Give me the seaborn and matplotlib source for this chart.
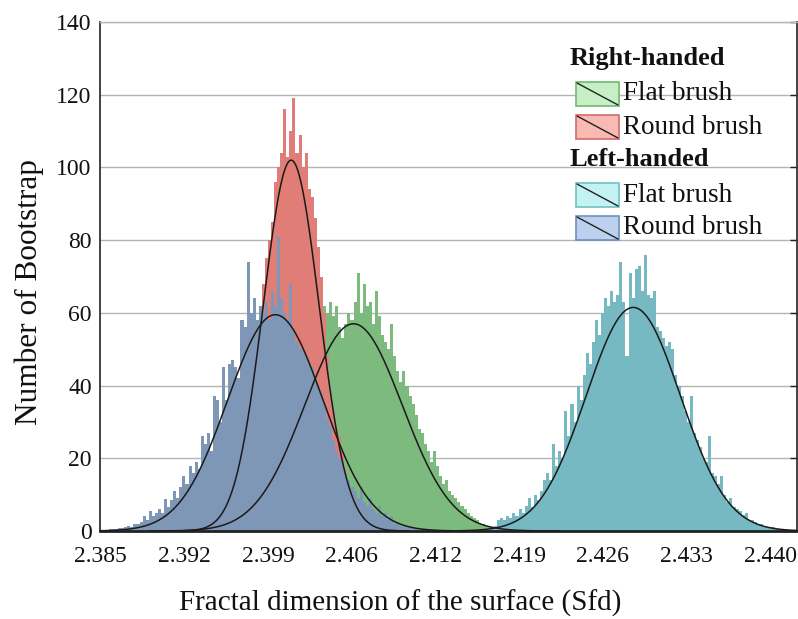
import numpy as np
import pandas as pd
import seaborn as sns
import matplotlib
matplotlib.use("Agg")
import matplotlib.pyplot as plt
from matplotlib.patches import Rectangle
from matplotlib.lines import Line2D

# ---------------- data ----------------
bin_start = 2.3852
bin_width = 0.000251

# Left-handed, round brush (first bin index 0)
lh_round_first = 0
lh_round_counts = [0.3, 0.3, 0.5, 0.5, 0.6, 0.8, 0.8, 1, 1.5, 1.2,
                   2, 1.8, 2.5, 4, 3, 5.5, 4, 5, 6, 5,
                   8.8, 6.5, 8.5, 11, 9, 12, 15, 13, 18, 16,
                   19, 17, 26, 24, 27, 22, 37, 36, 30, 45,
                   36, 46, 47, 45, 42, 58, 56, 74, 60, 64,
                   58, 62, 60, 63, 58, 66, 62, 81, 64, 60,
                   58, 68, 55, 52, 50, 50, 48, 46, 45, 42,
                   40, 38, 35, 31, 29, 25, 22, 20, 19, 16,
                   14, 12, 11, 9, 12, 8, 7, 9, 6, 5,
                   7, 4, 5, 3, 4, 2, 2.5, 1.5, 1.2, 1,
                   0.8, 0.6, 0.5]

# Right-handed, round brush (first bin index 37)
rh_round_first = 37
rh_round_counts = [1, 2, 3, 4, 6, 8, 11, 14, 18, 23,
                   30, 36, 42, 50, 58, 68, 75, 80, 85, 96,
                   100, 104, 116, 103, 110, 119, 104, 109, 100, 104,
                   94, 92, 86, 78, 70, 60, 48, 38, 33, 28,
                   26, 22, 17, 14, 11, 9, 7, 5, 4, 3,
                   2, 1.5, 1, 0.5]

# Right-handed, flat brush (first bin index 25)
rh_flat_first = 25
rh_flat_counts = [0.5, 0.6, 0.8, 1, 1.3, 1.7, 2, 2.5, 3, 4,
                  5, 6, 7, 8.5, 10, 11.5, 13, 15, 17, 19,
                  21, 23, 25, 27, 30, 32, 34, 36, 38, 40,
                  42, 44, 46, 48, 49, 51, 52, 53, 54, 55,
                  56, 57, 58, 59, 60, 58, 61, 62, 60, 63,
                  59, 62, 56, 53, 57, 60, 58, 63, 71, 60,
                  68, 62, 63, 57, 66, 59, 54, 52, 50, 57,
                  48, 44, 41, 44, 40, 37, 35, 32, 28, 27,
                  24, 22, 19, 22, 18, 15, 13, 14, 11, 10,
                  9, 8, 7, 6, 5, 4, 3.5, 3, 2, 2,
                  1.5, 1, 1, 0.6, 0.5, 0.3]

# Left-handed, flat brush (first bin index 126)
lh_flat_first = 126
lh_flat_counts = [0.3, 0.6, 1.5, 3, 3.5, 3, 4, 3.5, 5, 4,
                  6, 5, 7, 9, 6.5, 10, 8.5, 11, 14, 16,
                  14, 24, 18, 22, 20, 33, 26, 35, 30, 40,
                  36, 43, 49, 46, 52, 58, 54, 60, 64, 62,
                  66, 63, 65, 74, 63, 48, 71, 64, 72, 73,
                  66, 76, 65, 64, 66, 56, 55, 53, 51, 52,
                  50, 43, 40, 37, 33, 30, 37, 27, 25, 23,
                  20, 19, 26, 16, 15, 13, 15, 10, 8, 9,
                  6.5, 6, 5.5, 4.5, 5, 3, 3, 2.5, 2, 2,
                  1.5, 1.2, 1, 1, 0.8, 0.6, 0.5, 0.4, 0.3]

# fitted normal curves: mean, standard deviation, peak height
fit_mean = {"rh_flat": 2.40578, "rh_round": 2.40066, "lh_flat": 2.42876, "lh_round": 2.39936}
fit_sd = {"rh_flat": 0.00401, "rh_round": 0.00230, "lh_flat": 0.00386, "lh_round": 0.00391}
fit_peak = {"rh_flat": 57, "rh_round": 102, "lh_flat": 61.5, "lh_round": 59.5}

xtick_labels = ["2.385", "2.392", "2.399", "2.406", "2.412", "2.419", "2.426", "2.433", "2.440"]
ytick_values = [0, 20, 40, 60, 80, 100, 120, 140]

legend_groups = ["Right-handed", "Left-handed"]
legend_items = ["Flat brush", "Round brush"]

# ---------------- styling ----------------
sns.set_theme(style="white")
plt.rcParams["font.family"] = ["Liberation Serif", "DejaVu Serif"]

fill_colors = {"rh_flat": "#7dba7d", "rh_round": "#e07d77",
               "lh_flat": "#76b9c2", "lh_round": "#7f97b6"}
leg_fill = {"rh_flat": "#c6efc6", "rh_round": "#f8bab3",
            "lh_flat": "#c4f2f2", "lh_round": "#bcd1ee"}
leg_edge = {"rh_flat": "#73b873", "rh_round": "#cf6d6b",
            "lh_flat": "#70c2c2", "lh_round": "#7090c0"}

PX_PER_UNIT = 12175.0
fig = plt.figure(figsize=(7.98, 6.19), dpi=100)
ax = fig.add_axes([100 / 798, 88 / 619, 697 / 798, 509 / 619])


def series_frame(first, counts):
    idx = np.arange(first, first + len(counts))
    centers = bin_start + (idx + 0.5) * bin_width
    lo = bin_start + first * bin_width
    hi = bin_start + (first + len(counts)) * bin_width
    return pd.DataFrame({"x": centers, "w": counts}), lo, hi


order = [("rh_flat", rh_flat_first, rh_flat_counts),
         ("rh_round", rh_round_first, rh_round_counts),
         ("lh_flat", lh_flat_first, lh_flat_counts),
         ("lh_round", lh_round_first, lh_round_counts)]

for key, first, counts in order:
    df, lo, hi = series_frame(first, counts)
    sns.histplot(data=df, x="x", weights="w", bins=len(counts), binrange=(lo, hi),
                 ax=ax, color=fill_colors[key], alpha=1.0, element="bars",
                 linewidth=0, edgecolor="none", zorder=2)

# fitted curves
for key in ["rh_flat", "rh_round", "lh_flat", "lh_round"]:
    m, s, p = fit_mean[key], fit_sd[key], fit_peak[key]
    xs = np.linspace(m - 4.2 * s, m + 4.2 * s, 400)
    ys = p * np.exp(-0.5 * ((xs - m) / s) ** 2)
    sns.lineplot(x=xs, y=ys, ax=ax, color="#1a1a1a", linewidth=1.1, zorder=4)

# axes
x0 = 2.385
x1 = 2.440
ax.set_xlim(x0 - 0.5 / PX_PER_UNIT, x0 + 696.5 / PX_PER_UNIT)
ax.set_ylim(0, 140)
xticks = np.linspace(x0, x1, 9)
ax.set_xticks(xticks)
ax.set_xticklabels(xtick_labels)
ax.set_xticks(np.linspace(x0, x1, 25), minor=True)
ax.set_yticks(ytick_values)
ax.set_yticklabels([str(v) for v in ytick_values])

ax.grid(axis="y", color="#b4b4b4", linewidth=1.0, zorder=0)
ax.set_axisbelow(True)
ax.tick_params(axis="both", which="both", direction="in", length=5, width=1,
               color="#222222", labelsize=17, labelcolor="#111111")
ax.tick_params(axis="x", which="major", pad=11)
ax.tick_params(axis="y", which="major", pad=6, right=True)
ax.tick_params(axis="x", which="minor", length=4)

for side in ["left", "bottom", "right"]:
    ax.spines[side].set_color("#222222")
    ax.spines[side].set_linewidth(1.2)
ax.spines["bottom"].set_linewidth(2.0)
ax.spines["top"].set_color("#b4b4b4")
ax.spines["top"].set_linewidth(1.0)

ax.set_xlabel("Fractal dimension of the surface (Sfd)", fontsize=21, labelpad=16, color="#111111")
ax.set_ylabel("Number of Bootstrap", fontsize=22.5, labelpad=9, color="#111111")
ax.xaxis.label.set_x((400 - 100) / 697)
ax.yaxis.label.set_y((531 - 292) / 509)

# legend (drawn in axes fraction)
def ax_x(px):
    return (px - 100) / 697


def ax_y(py):
    return (531 - py) / 509


header_y = [58, 160]
row_y = [[94, 127], [195, 228]]
keys = [["rh_flat", "rh_round"], ["lh_flat", "lh_round"]]
pw, ph = 43 / 697, 24 / 509
for g in range(2):
    ax.text(ax_x(570), ax_y(header_y[g]), legend_groups[g], transform=ax.transAxes,
            fontsize=19, fontweight="bold", va="center", ha="left", color="#111111", zorder=6)
    for r in range(2):
        k = keys[g][r]
        cy = ax_y(row_y[g][r])
        ax.add_patch(Rectangle((ax_x(576), cy - ph / 2), pw, ph, transform=ax.transAxes,
                               facecolor=leg_fill[k], edgecolor=leg_edge[k], linewidth=1.2, zorder=6))
        ax.add_line(Line2D([ax_x(577), ax_x(618)], [cy + ph / 2 - 0.002, cy - ph / 2 + 0.002],
                           transform=ax.transAxes, color="#222222", linewidth=1.0, zorder=7))
        ax.text(ax_x(623), cy, legend_items[r], transform=ax.transAxes,
                fontsize=19.5, va="center", ha="left", color="#111111", zorder=6)

fig.savefig("out.png", dpi=100)
